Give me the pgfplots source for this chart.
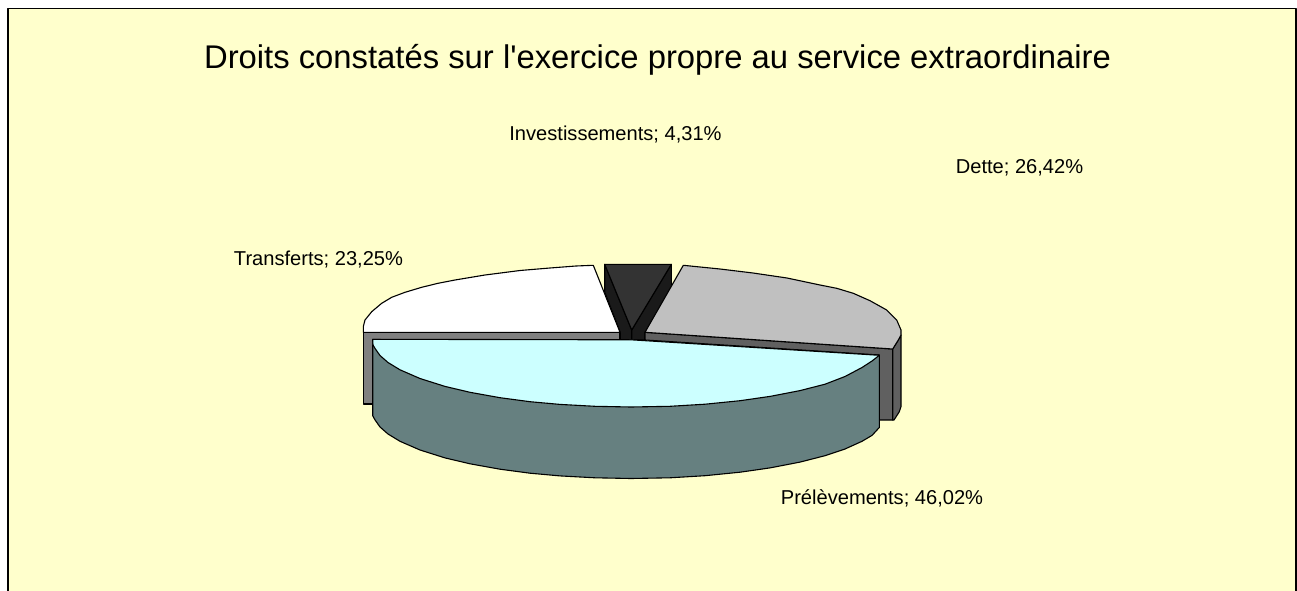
\documentclass[border=0pt]{standalone}
\usepackage{fontspec}
\setmainfont{Liberation Sans}[Ligatures=TeXOff]
\usepackage{pgfplots}
\pgfplotsset{compat=1.18}
\definecolor{bgy}{HTML}{FFFFCC}
\definecolor{tinv}{HTML}{333333}
\definecolor{sinv}{HTML}{1A1A1A}
\definecolor{tdet}{HTML}{C0C0C0}
\definecolor{sdet}{HTML}{606060}
\definecolor{ttra}{HTML}{FFFFFF}
\definecolor{stra}{HTML}{808080}
\definecolor{tpre}{HTML}{CCFFFF}
\definecolor{spre}{HTML}{668080}
\begin{document}
\begin{tikzpicture}
\begin{axis}[
  scale only axis, width=1297pt, height=591pt,
  xmin=0, xmax=1297, ymin=0, ymax=591, y dir=reverse,
  hide axis, clip=true,
  every axis plot/.append style={line join=round, line width=1.1pt},
]
% page area
\addplot[fill=white, draw=none] coordinates {(0,0) (1297,0) (1297,591) (0,591)} -- cycle;
% background and frame
\addplot[fill=bgy, draw=none] coordinates {(8,8) (1296,8) (1296,591) (8,591)} -- cycle;
\addplot[draw=black, line width=1.4pt] coordinates {(8,591) (8,8.5) (1296,8.5) (1296,591)};
% Investissements 4,31%: side faces and top
\addplot[fill=sinv, draw=black] coordinates {(604.7,264.3) (631.7,330) (631.7,340) (620,340) (620,332) (604.7,292)} -- cycle;
\addplot[fill=sinv, draw=black] coordinates {(671.3,264.3) (631.7,330) (631.7,340) (645,340) (645,333) (671.3,288.7)} -- cycle;
\addplot[fill=tinv, draw=black] coordinates {(604.7,264.3) (671.3,264.3) (631.7,330)} -- cycle;
% Transferts 23,25%: side and top
\addplot[fill=stra, draw=black] coordinates {(363.3,332.3) (620,332.3) (620,342) (373,342) (373,404) (363.3,404)} -- cycle;
\addplot[fill=ttra, draw=black] coordinates {(620,332.3) (593.3,265.3) (576,266) (550,268) (520,270.5) (485,275) (455,280) (438,283.3) (421.7,287.3) (405,292.3) (391.7,297.3) (381.7,303.3) (371.7,311.7) (365,320) (363.3,326.7) (363.3,332.3)} -- cycle;
% Dette 26,42%: sides and top
\addplot[fill=sdet, draw=black] coordinates {(645,332.3) (892.7,349) (892.7,420) (879.3,420) (879.3,355) (645,340)} -- cycle;
\addplot[fill=sdet, draw=black] coordinates {(892.7,349) (898.3,340) (901,335) (901,406.7) (899.3,411.7) (894,420) (892.7,420)} -- cycle;
\addplot[fill=tdet, draw=black] coordinates {(645,332.3) (683.3,265.3) (720,269) (753,273) (787,278) (820,285) (836.7,288.3) (853.3,293.3) (870,300.7) (886.7,310) (896.7,320) (901,330) (901,335) (898.3,340) (892.7,349)} -- cycle;
% Prelevements 46,02%: side and top
\addplot[fill=spre, draw=black] coordinates {(372.7,339.3) (372.7,415.7) (375,419.9) (380,427) (388,434) (400,441.3) (420,450) (445,457.9) (470,463.8) (500,469.2) (530,473.2) (560,475.9) (595,477.8) (631,478.5) (670,477.8) (705,475.7) (740,472.2) (770,467.9) (800,462.1) (825,455.7) (845,449) (862,441.3) (872,435.4) (879.3,427.5) (879.3,355.3)} -- cycle;
\addplot[fill=tpre, draw=black] coordinates {(372.7,339.3) (631,339.8) (879.3,355.3) (872,361) (862,367.5) (845,376.5) (825,384.2) (800,390.6) (770,396.4) (740,400.7) (705,404.2) (670,406.3) (631,407) (595,406.3) (560,404.4) (530,401.7) (500,397.7) (470,392.3) (445,386.4) (420,378.5) (400,369.8) (388,362.5) (380,355.5) (375,348.4) (373,345)} -- cycle;
% text
\node[anchor=center, font=\fontsize{32.8}{36}\selectfont] at (axis cs:657.5,59.5) {Droits constatés sur l'exercice propre au service extraordinaire};
\node[anchor=center, font=\fontsize{20.1}{22}\selectfont] at (axis cs:615.5,135) {Investissements; 4,31\%};
\node[anchor=center, font=\fontsize{20.1}{22}\selectfont] at (axis cs:1019.5,168) {Dette; 26,42\%};
\node[anchor=center, font=\fontsize{20.1}{22}\selectfont] at (axis cs:318.5,260) {Transferts; 23,25\%};
\node[anchor=center, font=\fontsize{20.1}{22}\selectfont] at (axis cs:882,498) {Prélèvements; 46,02\%};
\end{axis}
\end{tikzpicture}
\end{document}
